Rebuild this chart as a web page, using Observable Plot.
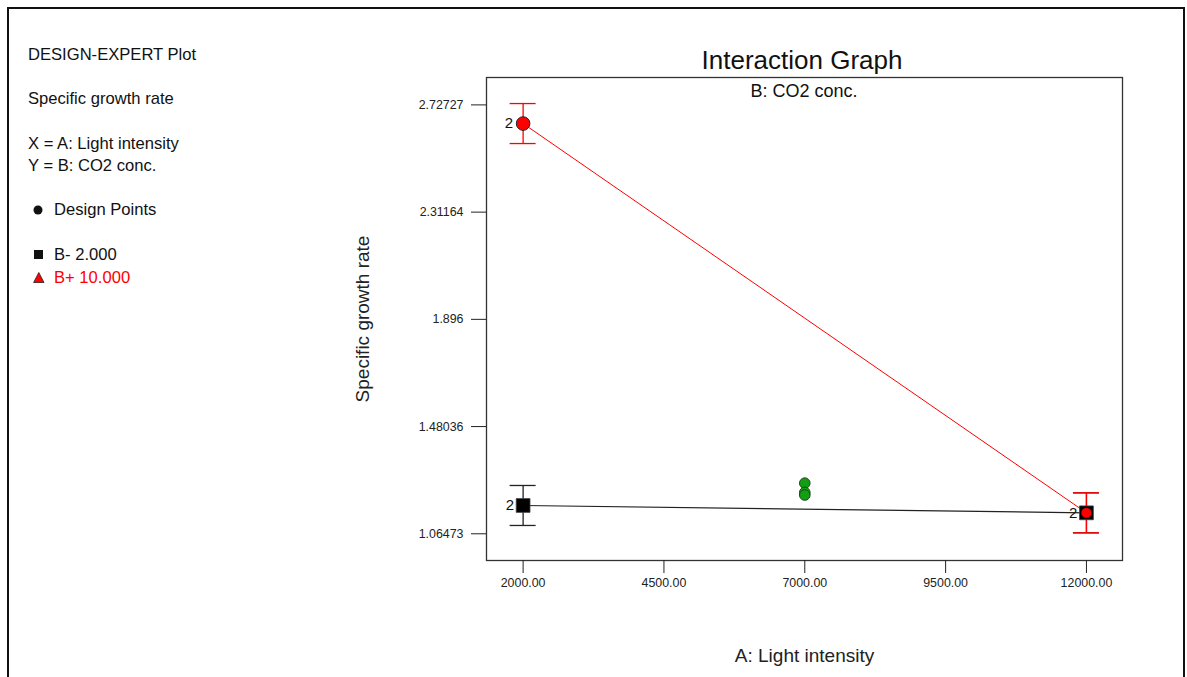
<!DOCTYPE html>
<html>
<head>
<meta charset="utf-8">
<script src="https://cdn.jsdelivr.net/npm/d3@7"></script>
<script src="https://cdn.jsdelivr.net/npm/@observablehq/plot@0.6"></script>
<style>
  html, body { margin: 0; padding: 0; background: #fff; }
  #wrap { position: relative; width: 1187px; height: 677px; overflow: hidden; background: #fff; font-family: "Liberation Sans", Arial, sans-serif; }
  #frame { position: absolute; left: 7px; top: 7px; width: 1178px; height: 720px; border: 2px solid #111; box-sizing: border-box; }
  #chart { position: absolute; left: 0; top: 0; }
  #overlay { position: absolute; left: 0; top: 0; pointer-events: none; }
  #chart g[aria-label="x-axis label"], #chart g[aria-label="y-axis label"] { font-size: 19px; }
</style>
</head>
<body>
<div id="wrap">
  <div id="frame"></div>
  <div id="chart"></div>
  <svg id="overlay" width="1187" height="677" font-family="Liberation Sans, Arial, sans-serif">
    <text x="28" y="60" font-size="16.6" fill="#111">DESIGN-EXPERT Plot</text>
    <text x="28" y="104" font-size="16.6" fill="#111">Specific growth rate</text>
    <text x="28" y="149" font-size="16.6" fill="#111">X = A: Light intensity</text>
    <text x="28" y="171" font-size="16.6" fill="#111">Y = B: CO2 conc.</text>
    <circle cx="38" cy="210" r="4.5" fill="#111"/>
    <text x="54" y="215" font-size="16.6" fill="#111">Design Points</text>
    <rect x="34" y="250" width="9" height="9" fill="#111"/>
    <text x="54" y="260" font-size="16.6" fill="#111">B- 2.000</text>
    <path d="M38.8,272.5 L44,282.5 L33.6,282.5 Z" fill="#ff0000" stroke="#222" stroke-width="0.8"/>
    <text x="54" y="282.5" font-size="16.6" fill="#ff0000">B+ 10.000</text>
    <text x="802" y="69" font-size="26" text-anchor="middle" fill="#111">Interaction Graph</text>
    <text x="804" y="96.5" font-size="18" text-anchor="middle" fill="#111">B: CO2 conc.</text>
  </svg>
</div>
<script>
// ---- data ----
const lightLevels = [2000, 12000];              // A: Light intensity
const bMinusMeans = [1.1745, 1.146];            // B- 2.000 (CO2 conc.)
const bPlusMeans  = [2.655, 1.146];             // B+ 10.000 (CO2 conc.)
const lsdHalf = 0.0775;                         // error bar half-length
const replicateLabels = ["2", "2"];             // design point replicate counts
const centerX = [7000, 7000, 7000];             // center design points
const centerY = [1.261, 1.225, 1.215];
const xTicks = [2000, 4500, 7000, 9500, 12000];
const yTicks = [1.06473, 1.48036, 1.896, 2.31164, 2.72727];
const yTickLabels = ["1.06473", "1.48036", "1.896", "2.31164", "2.72727"];

// ---- build tables ----
const bMinus = lightLevels.map((x, i) => ({x, y: bMinusMeans[i], lab: replicateLabels[i], series: "B-"}));
const bPlus  = lightLevels.map((x, i) => ({x, y: bPlusMeans[i], lab: replicateLabels[i], series: "B+"}));
const centers = centerX.map((x, i) => ({x, y: centerY[i]}));
const bPlusLow = bPlus.filter(d => d.x === 2000);
const bPlusHigh = bPlus.filter(d => d.x === 12000);

const chart = Plot.plot({
  width: 1187,
  height: 677,
  marginLeft: 486,
  marginRight: 65,
  marginTop: 77,
  marginBottom: 117,
  style: { fontFamily: "Liberation Sans, Arial, sans-serif", fontSize: "12.4px", color: "#222", background: "transparent" },
  x: { domain: [1350, 12640] },
  y: { domain: [0.9612, 2.8335] },
  marks: [
    Plot.frame({ stroke: "#333", strokeWidth: 1.3 }),
    Plot.axisX({ ticks: xTicks, tickFormat: d => d.toFixed(2), tickSize: 13, tickPadding: 5,
      label: "A: Light intensity", labelAnchor: "center", labelOffset: 101, labelArrow: "none" }),
    Plot.axisY({ ticks: yTicks, tickFormat: d => yTickLabels[yTicks.indexOf(d)], tickSize: 15, tickPadding: 8,
      label: "Specific growth rate", labelAnchor: "center", labelOffset: 131, labelArrow: "none" }),
    // fitted lines
    Plot.line(bMinus, { x: "x", y: "y", stroke: "#222", strokeWidth: 1.2 }),
    Plot.line(bPlus, { x: "x", y: "y", stroke: "#ff0000", strokeWidth: 1 }),
    // error bars B-
    Plot.ruleX(bMinus, { x: "x", y1: d => d.y - lsdHalf, y2: d => d.y + lsdHalf, stroke: "#222", strokeWidth: 1.3 }),
    Plot.ruleY(bMinus, { y: d => d.y - lsdHalf, x1: "x", x2: "x", insetLeft: -13, insetRight: -13, stroke: "#222", strokeWidth: 1.3 }),
    Plot.ruleY(bMinus, { y: d => d.y + lsdHalf, x1: "x", x2: "x", insetLeft: -13, insetRight: -13, stroke: "#222", strokeWidth: 1.3 }),
    // error bars B+
    Plot.ruleX(bPlus, { x: "x", y1: d => d.y - lsdHalf, y2: d => d.y + lsdHalf, stroke: "#ff0000", strokeWidth: 1.3 }),
    Plot.ruleY(bPlus, { y: d => d.y - lsdHalf, x1: "x", x2: "x", insetLeft: -13, insetRight: -13, stroke: "#ff0000", strokeWidth: 1.3 }),
    Plot.ruleY(bPlus, { y: d => d.y + lsdHalf, x1: "x", x2: "x", insetLeft: -13, insetRight: -13, stroke: "#ff0000", strokeWidth: 1.3 }),
    // markers
    Plot.dot(bMinus, { x: "x", y: "y", symbol: "square", r: 7.8, fill: "#000", stroke: "#444", strokeWidth: 0.8 }),
    Plot.dot(bPlusLow, { x: "x", y: "y", r: 6.8, fill: "#ff0000", stroke: "#222", strokeWidth: 1 }),
    Plot.dot(bPlusHigh, { x: "x", y: "y", r: 5.2, fill: "#ff0000", stroke: "#550000", strokeWidth: 0.5 }),
    Plot.dot(centers, { x: "x", y: "y", r: 5.3, fill: "#11a011", stroke: "#224422", strokeWidth: 1 }),
    // replicate labels
    Plot.text(bPlusLow, { x: "x", y: "y", text: "lab", dx: -10, textAnchor: "end", fontSize: 15, fill: "#111" }),
    Plot.text(bMinus, { x: "x", y: "y", text: "lab", dx: -9, textAnchor: "end", fontSize: 15, fill: "#111", fontWeight: d => d.x === 12000 ? "bold" : "normal" })
  ]
});
document.getElementById("chart").appendChild(chart);
</script>
</body>
</html>
